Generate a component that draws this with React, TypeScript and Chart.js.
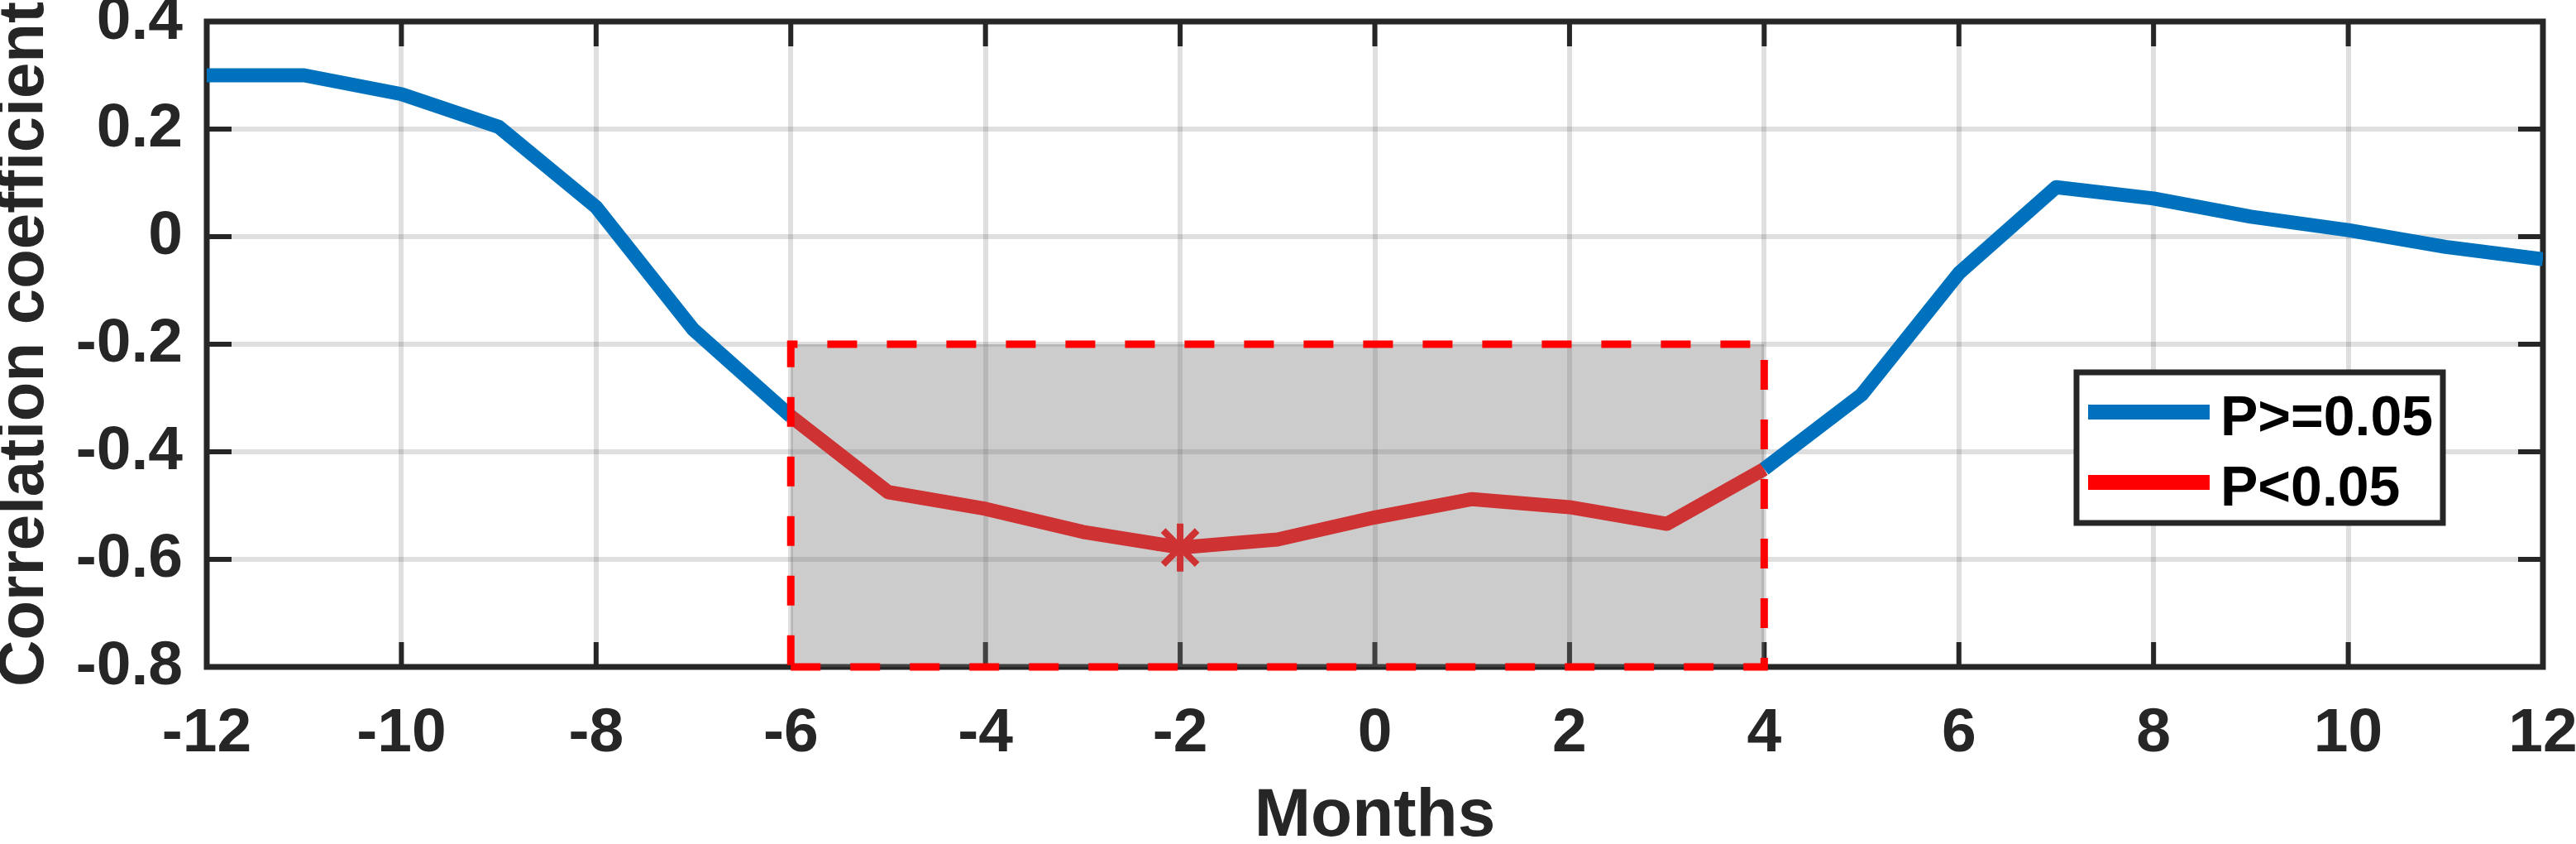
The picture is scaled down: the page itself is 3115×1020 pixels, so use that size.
import React, { useEffect, useRef } from "react";
import { Chart, registerables } from "chart.js";

Chart.register(...registerables);

// ---- data ----
const months = [-12, -11, -10, -9, -8, -7, -6, -5, -4, -3, -2, -1, 0, 1, 2, 3, 4, 5, 6, 7, 8, 9, 10, 11, 12];
const correlation = [
  0.3, 0.3, 0.265, 0.204, 0.055, -0.173, -0.334, -0.475, -0.506, -0.549, -0.578, -0.563, -0.522,
  -0.488, -0.503, -0.534, -0.432, -0.294, -0.068, 0.092, 0.071, 0.037, 0.012, -0.019, -0.042,
];
const sigStart = -6;
const sigEnd = 4;
const boxYMin = -0.8;
const boxYMax = -0.2;
const markerMonth = -2;
const legendLabels = ["P>=0.05", "P<0.05"];
const xRange = [-12, 12];
const yRange = [-0.8, 0.4];
const xStep = 2;
const yStep = 0.2;
const xTitle = "Months";
const yTitle = "Correlation coefficient";

const BLUE = "#0072BD";
const RED_LINE = "rgb(206,50,50)";
const RED = "#FF0000";
const AXIS = "#262626";
const FONT = "'Liberation Sans', Arial, Helvetica, sans-serif";
const TICK_LEN = 30;

const framePlugin = {
  id: "frameAndShade",
  beforeDatasetsDraw(chart: any) {
    const { ctx, chartArea, scales } = chart;
    const { left, right, top, bottom } = chartArea;
    const x = scales.x;
    const y = scales.y;
    ctx.save();
    ctx.strokeStyle = AXIS;
    ctx.lineCap = "butt";
    ctx.lineWidth = 6;
    ctx.beginPath();
    x.ticks.forEach((t: any) => {
      const px = x.getPixelForValue(t.value);
      ctx.moveTo(px, bottom);
      ctx.lineTo(px, bottom - TICK_LEN);
      ctx.moveTo(px, top);
      ctx.lineTo(px, top + TICK_LEN);
    });
    y.ticks.forEach((t: any) => {
      const py = y.getPixelForValue(t.value);
      ctx.moveTo(left, py);
      ctx.lineTo(left + TICK_LEN, py);
      ctx.moveTo(right, py);
      ctx.lineTo(right - TICK_LEN, py);
    });
    ctx.stroke();
    ctx.lineWidth = 7;
    ctx.strokeRect(left, top, right - left, bottom - top);

    // shaded significant window
    const x0 = x.getPixelForValue(sigStart);
    const x1 = x.getPixelForValue(sigEnd);
    const y0 = y.getPixelForValue(boxYMax);
    const y1 = y.getPixelForValue(boxYMin);
    ctx.fillStyle = "rgba(111,111,111,0.355)";
    ctx.fillRect(x0, y0, x1 - x0, y1 - y0);
    ctx.restore();
  },
  afterDatasetsDraw(chart: any) {
    const { ctx, chartArea, scales } = chart;
    const x = scales.x;
    const y = scales.y;
    const x0 = x.getPixelForValue(sigStart);
    const x1 = x.getPixelForValue(sigEnd);
    const y0 = y.getPixelForValue(boxYMax);
    const y1 = y.getPixelForValue(boxYMin);
    ctx.save();
    ctx.strokeStyle = RED;
    ctx.lineWidth = 9;
    ctx.setLineDash([36, 36]);
    ctx.lineCap = "butt";
    ctx.beginPath();
    ctx.moveTo(x0, y1);
    ctx.lineTo(x1, y1);
    ctx.lineTo(x1, y0);
    ctx.lineTo(x0, y0);
    ctx.closePath();
    ctx.stroke();
    ctx.setLineDash([]);

    // legend
    const bx0 = chartArea.right - 564;
    const bx1 = chartArea.right - 121;
    const by0 = chartArea.top + 424;
    const by1 = chartArea.top + 606;
    ctx.fillStyle = "#FFFFFF";
    ctx.fillRect(bx0, by0, bx1 - bx0, by1 - by0);
    ctx.strokeStyle = AXIS;
    ctx.lineWidth = 7;
    ctx.strokeRect(bx0, by0, bx1 - bx0, by1 - by0);
    const colors = [BLUE, RED];
    const rowY = [by0 + 48, by0 + 133];
    legendLabels.forEach((lab, i) => {
      ctx.strokeStyle = colors[i];
      ctx.lineWidth = 18;
      ctx.beginPath();
      ctx.moveTo(bx0 + 14, rowY[i]);
      ctx.lineTo(bx0 + 161, rowY[i]);
      ctx.stroke();
      ctx.fillStyle = "#000000";
      ctx.font = `bold 68px ${FONT}`;
      ctx.textAlign = "left";
      ctx.textBaseline = "alphabetic";
      ctx.fillText(lab, bx0 + 174, rowY[i] + 28);
    });
    ctx.restore();
  },
};

export default function App() {
  const ref = useRef<HTMLCanvasElement | null>(null);
  useEffect(() => {
    document.body.style.margin = "0";
    const canvas = ref.current;
    if (!canvas) return;
    const blueData = months.map((m, i) => ({
      x: m,
      y: m <= sigStart || m >= sigEnd ? correlation[i] : null,
    }));
    const redData = months
      .map((m, i) => ({ x: m, y: correlation[i] }))
      .filter((p) => p.x >= sigStart && p.x <= sigEnd);

    const tickFont = { family: FONT, size: 75, weight: "bold" as const, lineHeight: 1 };
    const chart = new Chart(canvas, {
      type: "line",
      data: {
        datasets: [
          {
            label: legendLabels[0],
            data: blueData as any,
            borderColor: BLUE,
            backgroundColor: BLUE,
            borderWidth: 17,
            pointRadius: 0,
            spanGaps: false,
            borderJoinStyle: "round",
            borderCapStyle: "butt",
            tension: 0,
            clip: 0,
          },
          {
            label: legendLabels[1],
            data: redData as any,
            borderColor: RED_LINE,
            backgroundColor: RED_LINE,
            borderWidth: 17,
            pointStyle: "star",
            pointRadius: (c: any) => (c.raw && c.raw.x === markerMonth ? 29 : 0),
            pointBorderWidth: 8,
            pointBorderColor: RED_LINE,
            pointBackgroundColor: RED_LINE,
            pointHoverRadius: 0,
            borderJoinStyle: "round",
            borderCapStyle: "butt",
            tension: 0,
            clip: 0,
          },
        ],
      },
      options: {
        responsive: false,
        animation: false,
        devicePixelRatio: 1,
        events: [],
        layout: { padding: { top: 26, right: 40, left: 0, bottom: 0 } },
        plugins: { legend: { display: false }, tooltip: { enabled: false } },
        scales: {
          x: {
            type: "linear",
            min: xRange[0],
            max: xRange[1],
            ticks: {
              stepSize: xStep,
              autoSkip: false,
              maxRotation: 0,
              font: tickFont,
              color: AXIS,
              padding: 44,
              callback: (v: any) => String(Math.round(Number(v))),
            },
            grid: { color: "rgba(38,38,38,0.15)", lineWidth: 6, drawTicks: false },
            border: { display: false },
            title: {
              display: true,
              text: xTitle,
              color: AXIS,
              padding: 0,
              font: { family: FONT, size: 82, weight: "bold", lineHeight: 0.8 },
            },
            afterFit: (s: any) => {
              s.height = 214;
              s.paddingLeft = 0;
              s.paddingRight = 0;
            },
          },
          y: {
            type: "linear",
            min: yRange[0],
            max: yRange[1],
            ticks: {
              stepSize: yStep,
              autoSkip: false,
              font: tickFont,
              color: AXIS,
              padding: 29,
              callback: (v: any) => String(Math.round(Number(v) * 10) / 10),
            },
            grid: { color: "rgba(38,38,38,0.15)", lineWidth: 6, drawTicks: false },
            border: { display: false },
            title: {
              display: true,
              text: yTitle,
              color: AXIS,
              padding: 0,
              font: { family: FONT, size: 78, weight: "bold", lineHeight: 0.77 },
            },
            afterFit: (s: any) => {
              s.width = 250;
              s.paddingTop = 0;
              s.paddingBottom = 0;
            },
          },
        },
      } as any,
      plugins: [framePlugin],
    });
    return () => chart.destroy();
  }, []);
  return (
    <div style={{ width: 3115, height: 1020 }}>
      <canvas ref={ref} width={3115} height={1020} style={{ display: "block" }} />
    </div>
  );
}
